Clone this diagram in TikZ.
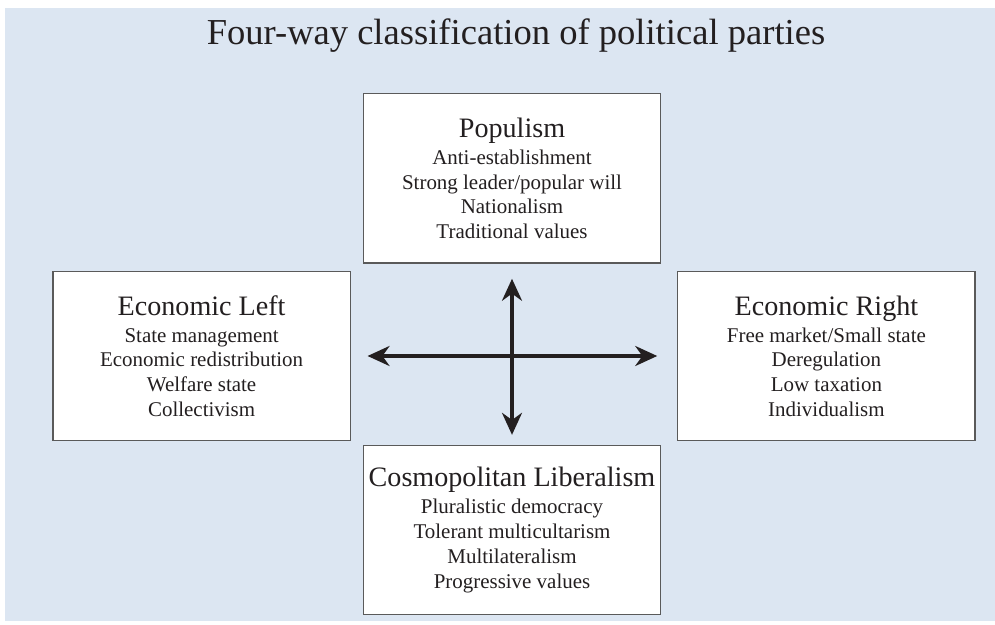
\documentclass[tikz,border=0pt]{standalone}
\usepackage{fontspec}
\setmainfont{Liberation Serif}
\usetikzlibrary{arrows.meta}
\definecolor{pgback}{HTML}{DCE6F2}
\definecolor{pgframe}{HTML}{5A5A5A}
\definecolor{pgink}{HTML}{231F20}
\tikzset{
  party/.style={rectangle,draw=pgframe,fill=white,line width=.8pt,minimum width=7.43cm,minimum height=4.23cm,
    align=center,text=pgink,font=\fontsize{14.9}{17.6}\selectfont,inner sep=0pt},
  axis/.style={{Stealth[length=5.5mm,width=5mm]}-{Stealth[length=5.5mm,width=5mm]},draw=pgink,line width=2.4pt},
  title/.style={font=\fontsize{26}{30}\selectfont,text=pgink},
}
\newcommand{\phead}[1]{{\fontsize{20}{22}\selectfont #1}\\[1.6pt]}

\begin{document}
\begin{tikzpicture}
  \useasboundingbox (0,0) rectangle (24.875,-15.625);
  \fill[pgback] (0.125,-0.2) rectangle (24.875,-15.525);
  \node[title] (ttl) at (12.9,-0.9) {Four-way classification of political parties};
  \node[party] (pop) at (12.8,-4.46) {\phead{Populism}Anti-establishment\\Strong leader/popular will\\Nationalism\\Traditional values};
  \node[party] (lft) at (5.04,-8.9) {\phead{Economic Left}State management\\Economic redistribution\\Welfare state\\Collectivism};
  \node[party] (rgt) at (20.66,-8.9) {\phead{Economic Right}Free market/Small state\\Deregulation\\Low taxation\\Individualism};
  \node[party] (cos) at (12.8,-13.25) {\phead{Cosmopolitan Liberalism}Pluralistic democracy\\Tolerant multicultarism\\Multilateralism\\Progressive values};
  \draw[axis,shorten <=0.42cm,shorten >=0.5cm] (lft) -- (rgt);
  \draw[axis,shorten <=0.38cm,shorten >=0.25cm] (pop) -- (cos);
\end{tikzpicture}
\end{document}
